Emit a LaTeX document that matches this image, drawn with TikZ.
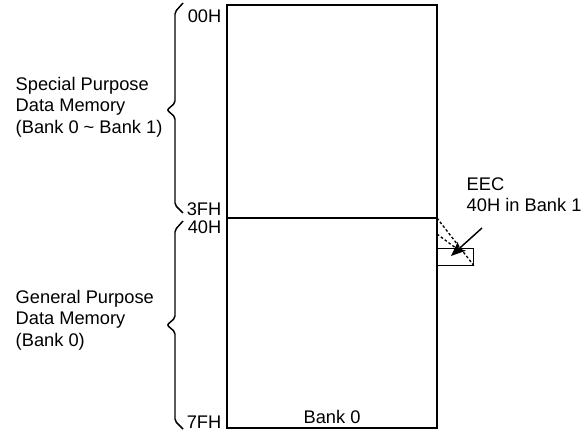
\documentclass[tikz,border=0pt]{standalone}
\usepackage{fontspec}
\setmainfont{Liberation Sans}
\usepackage{tikz}
\usetikzlibrary{arrows.meta}

\begin{document}
\begin{tikzpicture}[x=0.75pt,y=-0.75pt,line width=1.1pt,
    txt/.style={inner sep=0pt,align=left,font=\fontsize{13.7}{16}\selectfont},
    addr/.style={inner sep=0pt,font=\fontsize{13.7}{16}\selectfont,anchor=east},
    dots/.style={line width=1pt,dash pattern=on 2pt off 1.6pt}]
\useasboundingbox (0,0) rectangle (582,434);
% memory block
\draw (227,5) rectangle (437,428);
\coordinate (divl) at (227,218);
\coordinate (divr) at (437,218);
\draw (divl) -- (divr);
\node[addr,anchor=center] (bank) at (332,417) {Bank 0};
% address labels
\node[addr] (a00) at (222,16) {00H};
\node[addr] (a3f) at (222,209) {3FH};
\node[addr] (a40) at (222,227) {40H};
\node[addr] (a7f) at (222,422) {7FH};
% braces
\draw[rounded corners=1.5pt] (183,3) -- (175,12) -- (175,103) -- (167,110) -- (175,117) -- (175,205) -- (183,213);
\draw[rounded corners=1.5pt] (183,221) -- (175,230) -- (175,318) -- (167,325) -- (175,332) -- (175,421) -- (183,429);
\node[txt,anchor=west] (spdm) at (15,107) {Special Purpose\\Data Memory\\(Bank 0 \textasciitilde{} Bank 1)};
\node[txt,anchor=west] (gpdm) at (15,320) {General Purpose\\Data Memory\\(Bank 0)};
% EEC register
\node[draw,anchor=north west,inner sep=0pt,minimum width=27pt,minimum height=12.75pt] (eec) at (437,248) {};
\coordinate (dot2) at (437,234);
\draw[dots] (divr) -- (eec.south east);
\draw[dots] (dot2) -- (eec.north);
\node[txt,anchor=west] (eectxt) at (466,195) {EEC\\40H in Bank 1};
\coordinate (tail) at (482,228);
\coordinate (head) at (451,256);
\draw[-{Stealth[length=11pt,width=9pt,inset=3pt]}] (tail) -- (head);
\end{tikzpicture}
\end{document}
